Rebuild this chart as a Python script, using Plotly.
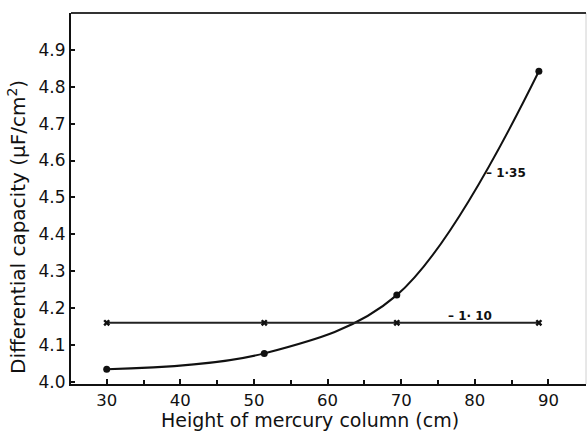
import plotly.graph_objects as go

# Mercury column height (cm) and differential capacity (uF/cm^2)
height_135 = [30, 51.4, 69.4, 88.7]
capacity_135 = [4.034, 4.077, 4.235, 4.842]
height_110 = [30, 51.4, 69.4, 88.7]
capacity_110 = [4.16, 4.16, 4.16, 4.16]

x_ticks = [30, 40, 50, 60, 70, 80, 90]
y_ticks = [4.0, 4.1, 4.2, 4.3, 4.4, 4.5, 4.6, 4.7, 4.8, 4.9]
y_tick_text = ["4.0", "4.1", "4.2", "4.3", "4.4", "4.5", "4.6", "4.7", "4.8", "4.9"]

FONT = "DejaVu Sans"
INK = "#111111"

fig = go.Figure()

fig.add_trace(go.Scatter(
    x=height_135, y=capacity_135, mode="lines+markers",
    line=dict(color=INK, width=2, shape="spline", smoothing=1.0),
    marker=dict(symbol="circle", size=7, color=INK),
    showlegend=False,
))
fig.add_trace(go.Scatter(
    x=height_110, y=capacity_110, mode="lines+markers",
    line=dict(color="#222222", width=2),
    marker=dict(symbol="x", size=6, color=INK),
    showlegend=False,
))

# curve labels (electrode potential, V)
fig.add_annotation(x=81.2, y=4.567, text="<b>\u2013 1\u00b735</b>", showarrow=False,
                   xanchor="left", yanchor="middle",
                   font=dict(family=FONT, size=12, color=INK))
fig.add_annotation(x=79.4, y=4.179, text="<b>\u2013 1\u00b7 10</b>", showarrow=False,
                   xanchor="center", yanchor="middle",
                   font=dict(family=FONT, size=12, color=INK))

# axis titles
fig.add_annotation(xref="paper", yref="paper", x=0.464, y=-0.1334,
                   text="Height of mercury column (cm)", showarrow=False,
                   xanchor="center", yanchor="bottom",
                   font=dict(family=FONT, size=19, color=INK))
fig.add_annotation(xref="paper", yref="paper", x=-0.105, y=0.423,
                   text="Differential capacity (\u03bcF/cm<sup>2</sup>)", showarrow=False,
                   textangle=-90, xanchor="center", yanchor="middle",
                   font=dict(family=FONT, size=20, color=INK))

# faint right-hand frame edge
fig.add_shape(type="line", xref="paper", yref="paper", x0=1, x1=1, y0=0, y1=1,
              line=dict(color="#d0d0d0", width=1))
# top frame edge
fig.add_shape(type="line", xref="paper", yref="paper", x0=0, x1=1, y0=1, y1=1,
              line=dict(color="#333333", width=2))

fig.update_xaxes(
    range=[25.15, 95.1], tickvals=x_ticks, ticks="inside", ticklen=5,
    tickwidth=1.5, tickcolor=INK,
    minor=dict(dtick=5, tick0=25, ticks="inside", ticklen=4, tickcolor=INK, tickwidth=1.5),
    showgrid=False, zeroline=False, showline=True, linecolor=INK, linewidth=2,
    tickfont=dict(family=FONT, size=16.5, color=INK),
)
fig.update_yaxes(
    range=[3.994, 5.0], tickvals=y_ticks, ticktext=y_tick_text, ticks="inside",
    ticklen=4, tickwidth=1.5, tickcolor=INK,
    showgrid=False, zeroline=False, showline=True, linecolor=INK, linewidth=2,
    tickfont=dict(family=FONT, size=17, color=INK),
)

fig.update_layout(
    width=588, height=434,
    margin=dict(l=71, r=2, t=13, b=50),
    paper_bgcolor="white", plot_bgcolor="white",
)

fig.write_html("out.html")
